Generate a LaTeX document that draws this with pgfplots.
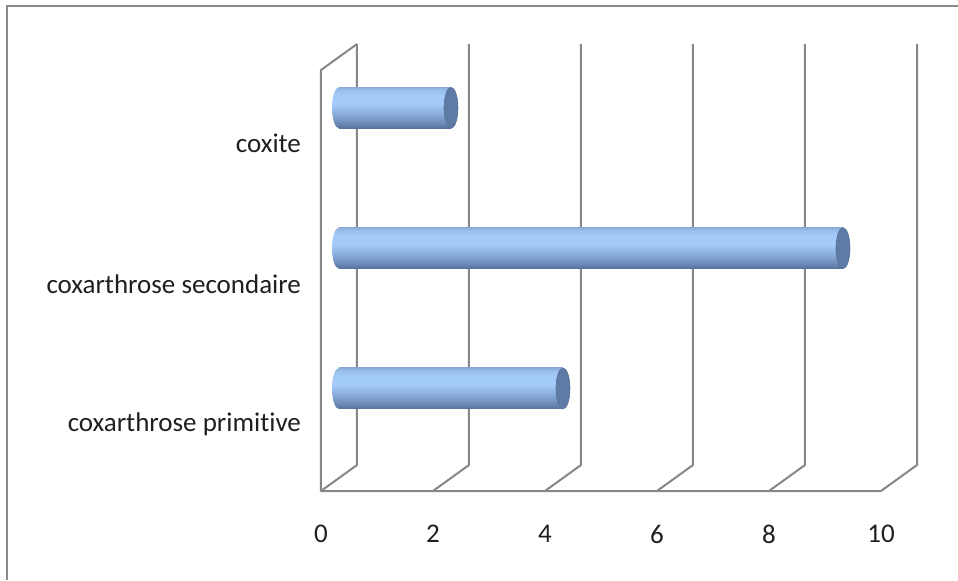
\documentclass[border=0pt]{standalone}
\usepackage{fontspec}
\setmainfont[Ligatures={NoCommon,NoRequired}]{Carlito}
\usepackage{pgfplots}
\pgfplotsset{compat=1.18}
\usetikzlibrary{shapes.geometric}

\definecolor{wallgray}{HTML}{878787}
\definecolor{framegray}{HTML}{8A8A8A}
\definecolor{capblue}{HTML}{5E7BA6}
\definecolor{capedge}{HTML}{58739C}
\definecolor{cA}{HTML}{56709A}
\definecolor{cB}{HTML}{6482AE}
\definecolor{cC}{HTML}{84A5D4}
\definecolor{cD}{HTML}{A4CCFB}
\definecolor{cE}{HTML}{A2C9F7}
\definecolor{cF}{HTML}{99BEEC}
\definecolor{cG}{HTML}{8CADDA}

% vertical light-to-dark shading of the cylinder bodies
\pgfdeclareverticalshading{cylinder}{100bp}{%
  color(0bp)=(cA); color(25bp)=(cA); color(29bp)=(cB); color(40bp)=(cC);
  color(55bp)=(cD); color(66bp)=(cE); color(72bp)=(cF); color(75bp)=(cG);
  color(100bp)=(cG)}

\def\ymn{-0.638}
\def\ymx{2.362}

\pgfplotsset{
  cylbody/.style={xbar, bar width=20.5pt, bar shift=0pt, draw=none, shade, shading=cylinder},
  cylcap/.style={only marks, mark=*, mark size=10.25pt,
    mark options={xscale=0.3415, fill=capblue, draw=capedge, line width=0.3pt}},
  cylstart/.style={draw=none, mark=none, nodes near coords={\mbox{}},
    nodes near coords align=center,
    every node near coord/.style={ellipse, shade, shading=cylinder, draw=none,
      minimum width=7pt, minimum height=20.5pt, inner sep=0pt, anchor=center}},
}

\begin{document}
\begin{tikzpicture}
\begin{axis}[
  at={(0,0)}, anchor=south west,
  scale only axis, width=280pt, height=210.5pt,
  xmin=0, xmax=10, ymin=\ymn, ymax=\ymx,
  clip=false,
  axis line style={draw=none},
  major tick length=0pt,
  xtick={0,2,...,10},
  ytick={0,1,2},
  yticklabels={coxarthrose primitive, coxarthrose secondaire, coxite},
  /pgf/number format/assume math mode=true,
  tick label style={font=\fontsize{13.5}{16}\selectfont, text=black!88},
  xticklabel style={xshift=-9pt, yshift=-20pt},
  yticklabel style={xshift=-15.5pt, yshift=-18pt},
]
% 3-D frame: left wall, floor and back-wall gridlines
\draw[wallgray, line width=1pt, line join=round]
  ([shift={(-9pt,-6.5pt)}]axis cs:10,\ymn) -- ([shift={(-9pt,-6.5pt)}]axis cs:0,\ymn)
  -- ([shift={(-9pt,-6.5pt)}]axis cs:0,\ymx) -- ([shift={(9pt,6.5pt)}]axis cs:0,\ymx);
\pgfplotsinvokeforeach{0,2,4,6,8,10}{
  \draw[wallgray, line width=1pt, line join=round]
    ([shift={(-9pt,-6.5pt)}]axis cs:#1,\ymn) -- ([shift={(9pt,6.5pt)}]axis cs:#1,\ymn)
    -- ([shift={(9pt,6.5pt)}]axis cs:#1,\ymx);
}
% cylinder bodies, one per category
\addplot[cylbody] coordinates {(4,0)};
\addplot[cylbody] coordinates {(9,1)};
\addplot[cylbody] coordinates {(2,2)};
% rounded left ends
\addplot[cylstart] coordinates {(0,0) (0,1) (0,2)};
% end caps
\addplot[cylcap] coordinates {(4,0) (9,1) (2,2)};
\end{axis}
\draw[framegray, line width=1pt] (309.5pt,236pt) -- (-166pt,236pt) -- (-166pt,-51pt);
\pgfresetboundingbox
\path[use as bounding box] (-169.5pt,-51pt) rectangle (309.5pt,239pt);
\end{tikzpicture}
\end{document}
